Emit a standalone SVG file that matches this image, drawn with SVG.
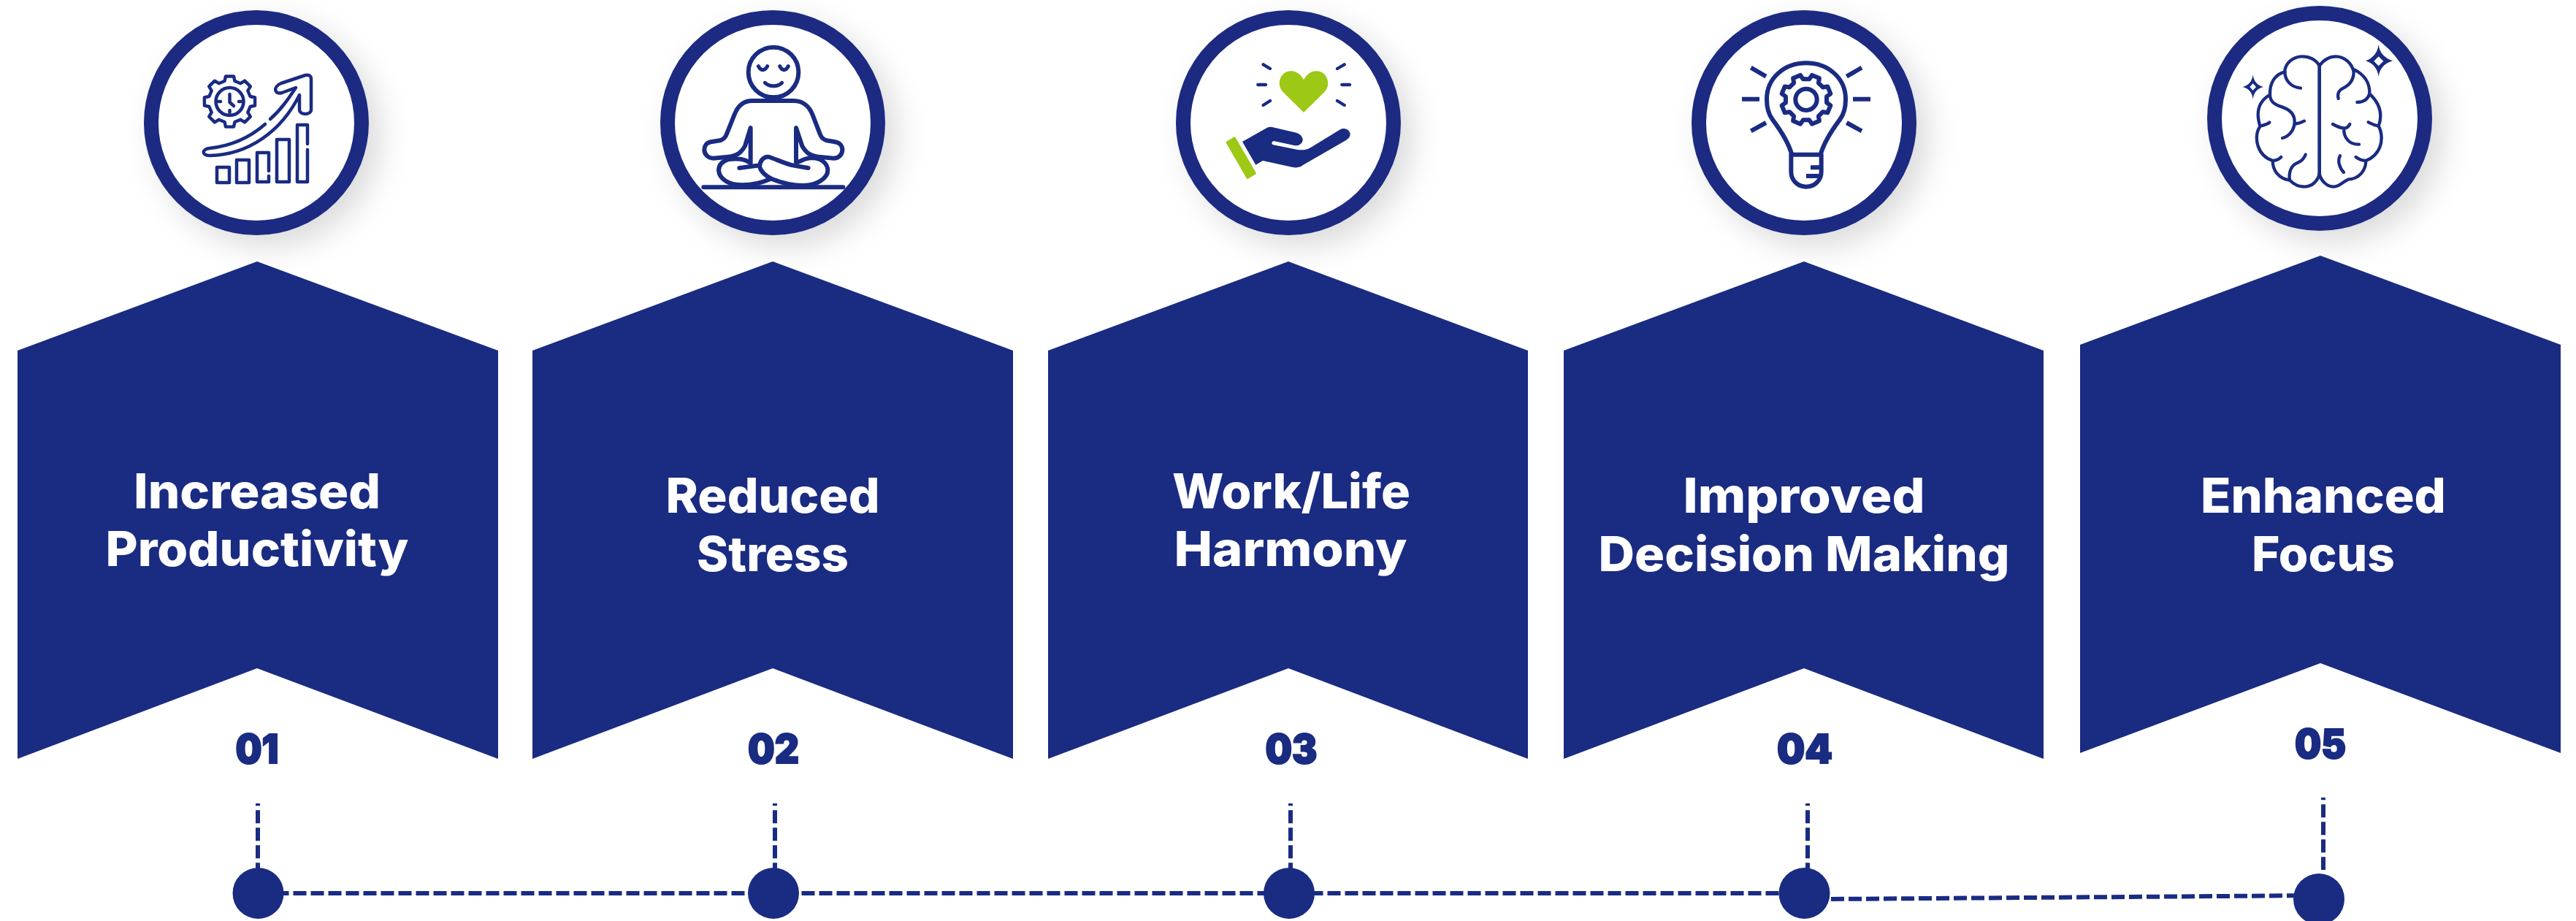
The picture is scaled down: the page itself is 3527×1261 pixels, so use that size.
<svg xmlns="http://www.w3.org/2000/svg" width="3527" height="1261" viewBox="0 0 3527 1261">
<style>
.fill{fill:#1a2b82}
.ring{fill:#fff;stroke:#1a2b82;stroke-width:20;filter:url(#sh)}
.lab{font-family:"Inter","Liberation Sans",sans-serif;font-weight:800;font-size:66px;fill:#fff;text-anchor:middle}
.num{font-family:"Inter","Liberation Sans",sans-serif;font-weight:900;font-size:55px;fill:#1a2b82;stroke:#1a2b82;stroke-width:2;text-anchor:middle}
.ic{fill:none;stroke:#1a2b82;stroke-linecap:round;stroke-linejoin:round}
.dash{fill:none;stroke:#1a2b82;stroke-width:6;stroke-dasharray:18 6}
.green{fill:#9dc815}
</style>
<defs>
<filter id="sh" x="-30%" y="-30%" width="170%" height="170%"><feDropShadow dx="16" dy="16" stdDeviation="20" flood-color="#000" flood-opacity=".14"/></filter>
<path id="gear" d="M84.1,12.6 100.2,24 87.8,53.8 68.3,50.6 50.6,68.3 53.8,87.8 24,100.2 12.6,84.1 -12.6,84.1 -24,100.2 -53.8,87.8 -50.6,68.3 -68.3,50.6 -87.8,53.8 -100.2,24 -84.1,12.6 -84.1,-12.6 -100.2,-24 -87.8,-53.8 -68.3,-50.6 -50.6,-68.3 -53.8,-87.8 -24,-100.2 -12.6,-84.1 12.6,-84.1 24,-100.2 53.8,-87.8 50.6,-68.3 68.3,-50.6 87.8,-53.8 100.2,-24 84.1,-12.6Z"/>
</defs>
<rect width="3527" height="1261" fill="#fff"/>

<g id="connectors">
<path class="dash" d="M353,1100V1190" stroke-dashoffset="14.7"/>
<path class="dash" d="M1061,1100V1190" stroke-dashoffset="14.7"/>
<path class="dash" d="M1767,1100V1190" stroke-dashoffset="14.7"/>
<path class="dash" d="M2475,1100V1190" stroke-dashoffset="14.7"/>
<path class="dash" d="M3181,1092V1191" stroke-dashoffset="14.7"/>
<path class="dash" d="M377.5,1223H2470"/>
<path class="dash" d="M2507,1231L3175,1226"/>
</g>

<g id="node-1">
<circle class="ring" cx="351" cy="168" r="144"/>
<path class="fill" d="M24,480 352,358 682,480V1039L352,915 24,1039Z"/>
<g class="ic" stroke-width="4.5">
<rect x="297" y="229" width="17" height="21"/><rect x="324" y="219" width="17" height="31"/>
<path d="M368,234V209H352V249H368V241"/>
<rect x="379" y="191" width="17" height="58"/>
<path d="M421,197V171H407V249H421V205"/>
<path d="M363,170C340,190 315,200 287,203C276,204 276,213 287,213C340,212 385,180 410,130V150C410,158 426,158 426,150V108C426,103 422,102 418,103L385,114C373,119 376,130 386,127L405,120C395,135 385,150 370,163"/>
<use href="#gear" transform="translate(314.5 139) rotate(22.5) scale(.34)" stroke-width="13"/>
<circle cx="314.5" cy="139" r="19"/>
<path d="M314.5,129V140L320,145M299,139H302M327,139H330M314.5,154V151"/>
</g>
<text class="lab" x="352" y="696" textLength="338" lengthAdjust="spacingAndGlyphs">Increased</text>
<text class="lab" x="352" y="775" textLength="415" lengthAdjust="spacingAndGlyphs">Productivity</text>
<text class="num" x="352" y="1045" textLength="59" lengthAdjust="spacingAndGlyphs">01</text>
<circle class="fill" cx="353.500" cy="1223" r="35"/>
</g>

<g id="node-2">
<circle class="ring" cx="1058" cy="168" r="144"/>
<path class="fill" d="M729,480 1058,358 1387,480V1039L1058,915 729,1039Z"/>
<g class="ic" stroke-width="18" transform="translate(860 0) scale(.33333)">
<circle cx="597" cy="297" r="103"/>
<path d="M535,272C545,292 560,292 572,272M623,272C633,292 648,292 658,272" stroke-width="15"/>
<path d="M562,340C580,358 615,358 632,340" stroke-width="15"/>
<path d="M510,414H680C720,414 745,440 757,470L788,550C793,565 800,572 815,577L850,583C870,586 880,600 880,615C880,635 865,650 845,650L790,645C745,642 730,625 715,600L690,525V670"/>
<path d="M510,414C470,414 448,440 437,470L405,550C400,565 393,572 378,577L340,583C322,586 313,600 313,615C313,635 330,650 350,650L405,645C450,642 465,625 480,600L503,525V670"/>
<path d="M495,665C470,650 440,650 410,655C380,665 372,685 372,700C375,740 420,760 470,760C510,760 550,750 585,735M457,690L530,680"/>
<path d="M740,690L680,680C650,675 610,655 580,645C555,640 540,665 540,685C545,705 560,720 590,735C640,755 680,762 720,762C780,760 820,730 820,700C820,675 800,655 770,650C740,645 720,655 700,665"/>
<path d="M310,769H883"/>
</g>
<text class="lab" x="1058" y="702" textLength="293" lengthAdjust="spacingAndGlyphs">Reduced</text>
<text class="lab" x="1058" y="782" textLength="208" lengthAdjust="spacingAndGlyphs">Stress</text>
<text class="num" x="1059" y="1045" textLength="70" lengthAdjust="spacingAndGlyphs">02</text>
<circle class="fill" cx="1059" cy="1223" r="35"/>
</g>

<g id="node-3">
<circle class="ring" cx="1764" cy="168" r="144"/>
<path class="fill" d="M1435,480 1764,358 2092,480V1039L1764,915 1435,1039Z"/>
<g transform="translate(1580 0) scale(.33333)">
<path class="ic" stroke-width="13" d="M449,265L477,282M427,348H459M449,432L477,414M753,282L782,265M772,348H804M753,414L782,432"/>
<path class="green" d="M615,462L530,378C505,352 513,310 545,295C575,285 600,300 615,328C630,300 655,285 685,295C717,310 725,352 700,378Z"/>
<path class="fill" d="M363,582L460,527Q472,519 485,522L585,545C605,552 615,570 610,580C605,595 590,600 575,597L495,580C483,578 480,592 490,595L590,615C612,618 628,615 645,605L765,532C785,520 805,535 806,550C806,562 798,572 785,578L612,678C600,688 585,690 570,687L447,660L418,677Z"/>
<path class="green" stroke="#9dc815" stroke-width="8" stroke-linejoin="round" d="M300,585 331,566 416,712 384,731Z"/>
</g>
<text class="lab" x="1768" y="696" textLength="326" lengthAdjust="spacingAndGlyphs">Work/Life</text>
<text class="lab" x="1767" y="775" textLength="319" lengthAdjust="spacingAndGlyphs">Harmony</text>
<text class="num" x="1768" y="1045" textLength="71" lengthAdjust="spacingAndGlyphs">03</text>
<circle class="fill" cx="1765" cy="1223" r="35"/>
</g>

<g id="node-4">
<circle class="ring" cx="2470" cy="168" r="144"/>
<path class="fill" d="M2141,480 2470,358 2798,480V1039L2470,915 2141,1039Z"/>
<g class="ic" stroke-width="18" transform="translate(2290 0) scale(.33333)" style="stroke-linecap:butt">
<path d="M322,278L384,314M285,407H357M322,538L384,504M777,278L715,314M741,407H813M777,538L715,504"/>
<path d="M490,635C475,580 440,530 410,490C395,470 387,440 387,407C387,320 460,259 549,259C638,259 711,320 711,407C711,440 703,470 688,490C658,530 623,580 608,635"/>
<path d="M487,635H611V705C611,740 585,767 549,767C513,767 487,740 487,705ZM603,688H567M603,723H549"/>
<circle cx="549" cy="409" r="44"/>
<use href="#gear" transform="translate(549 409)"/>
</g>
<text class="lab" x="2470" y="702" textLength="331" lengthAdjust="spacingAndGlyphs">Improved</text>
<text class="lab" x="2470" y="782" textLength="563" lengthAdjust="spacingAndGlyphs">Decision Making</text>
<text class="num" x="2471" y="1045" textLength="76" lengthAdjust="spacingAndGlyphs">04</text>
<circle class="fill" cx="2470.500" cy="1223" r="35"/>
</g>

<g id="node-5">
<circle class="ring" cx="3176" cy="162" r="144"/>
<path class="fill" d="M2848,472 3177,350 3506,472V1031L3177,908 2848,1031Z"/>
<g transform="translate(3000 0) scale(.33333)">
<g class="ic" stroke-width="13">
<path d="M527,270V715" stroke-width="14"/>
<path d="M527,270C510,240 480,232 455,232C420,232 385,260 385,295C385,330 410,358 450,362"/>
<path d="M385,295C345,305 322,340 324,390C325,420 345,430 375,440C405,450 425,470 425,500C425,530 405,560 375,567M425,510C440,508 450,505 465,497"/>
<path d="M322,390C290,410 275,440 275,470C275,490 280,505 283,520C265,545 268,580 275,600C285,630 305,650 335,660C335,700 360,735 405,740C420,755 440,767 465,767C495,767 520,745 527,715"/>
<path d="M283,518C295,515 310,512 322,503M335,660C350,660 360,655 370,645M405,740C400,710 410,680 435,670C455,662 465,650 470,635"/>
<path d="M527,270C545,245 570,232 595,232C630,232 660,260 668,295C668,330 650,350 625,362C605,372 600,385 605,405"/>
<path d="M668,285C710,305 735,340 733,385C725,410 705,420 682,420M733,385C765,415 778,445 778,475C778,490 775,505 770,518C750,515 740,508 728,502"/>
<path d="M770,518C785,545 785,580 775,605C765,630 745,650 718,660C700,660 690,655 677,645M718,660C718,700 690,735 645,737C625,745 610,767 585,767C560,767 535,745 527,715"/>
<path d="M582,510C600,520 620,527 632,527C640,525 648,518 652,510M628,527C625,565 650,595 690,593M612,640C600,660 610,690 627,708"/>
</g>
<path class="fill" fill-rule="evenodd" d="M770,183Q776,232 828,250Q776,266 770,315Q764,266 717,250Q764,232 770,183ZM770,232L751,251 770,271 790,251Z"/>
<path class="fill" fill-rule="evenodd" d="M254,307Q259,348 297,357Q259,366 254,407Q249,366 212,357Q249,348 254,307ZM254,343L241,357 254,371 267,357Z"/>
</g>
<text class="lab" x="3181" y="702" textLength="336" lengthAdjust="spacingAndGlyphs">Enhanced</text>
<text class="lab" x="3181" y="782" textLength="196" lengthAdjust="spacingAndGlyphs">Focus</text>
<text class="num" x="3177" y="1038" textLength="70" lengthAdjust="spacingAndGlyphs">05</text>
<circle class="fill" cx="3175" cy="1231" r="35"/>
</g>
</svg>
